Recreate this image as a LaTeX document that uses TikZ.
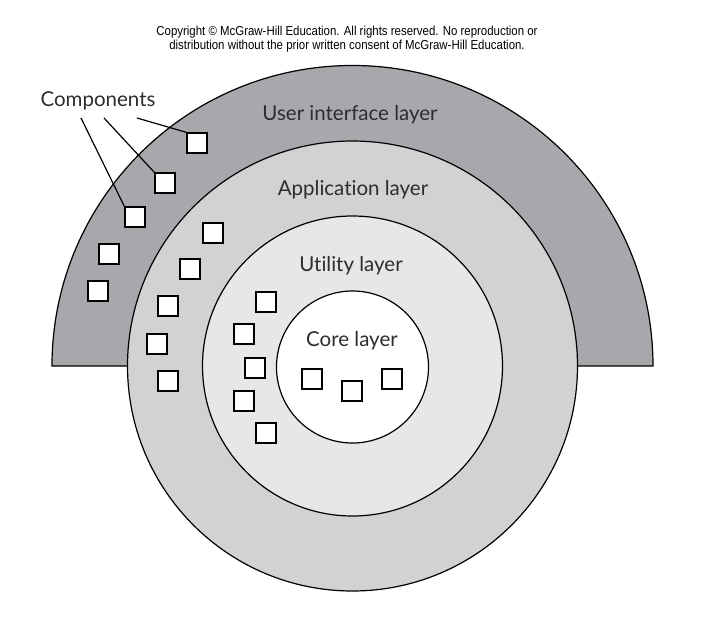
\documentclass[tikz,border=0pt]{standalone}
\usepackage{fontspec}
\setmainfont[Ligatures=NoCommon]{Lato}
\newfontfamily\notefont[FakeStretch=0.88]{Liberation Sans}
\usepackage{tikz}
\usetikzlibrary{positioning}
\usepackage{xcolor}

\definecolor{uigray}{RGB}{167,168,171}
\definecolor{appgray}{RGB}{209,210,212}
\definecolor{utilgray}{RGB}{230,231,232}
\definecolor{inkgray}{RGB}{45,45,48}

\tikzset{
  compbox/.style={draw, fill=white, line width=1.3pt, minimum size=20pt, inner sep=0pt},
  layername/.style={font=\fontsize{20.5}{24}\selectfont, text=inkgray},
}

\begin{document}
\begin{tikzpicture}[x=1pt,y=-1pt]
\useasboundingbox (0,0) rectangle (702,624);

% the four layers
\filldraw[fill=uigray, line width=1.2pt] (52,366) arc[start angle=180, end angle=360, radius=300.5] -- cycle;
\filldraw[fill=appgray, line width=1.2pt] (352.5,366) circle[radius=225];
\filldraw[fill=utilgray, line width=1.2pt] (352.5,366) circle[radius=150];
\filldraw[fill=white, line width=1.2pt] (352.5,367) circle[radius=76];

\node[font=\notefont\fontsize{13}{14}\selectfont, align=center] (copy) at (347,39)
  {Copyright © McGraw-Hill Education. All rights reserved. No reproduction or\\
   distribution without the prior written consent of McGraw-Hill Education.};

\node[layername] (uilabel) at (350,115) {User interface layer};
\node[layername] (applabel) at (353,190) {Application layer};
\node[layername] (utillabel) at (351,266) {Utility layer};
\node[layername] (corelabel) at (352,341) {Core layer};
\node[layername] (comp) at (98,101) {Components};

% user interface components
\node[compbox] (ui1) at (197,143) {};
\node[compbox] (ui2) at (165,183) {};
\node[compbox] (ui3) at (135,217) {};
\node[compbox] (ui4) at (109,254) {};
\node[compbox] (ui5) at (98,291) {};

% application components
\node[compbox] (app1) at (213,233) {};
\node[compbox] (app2) at (190,269) {};
\node[compbox] (app3) at (168,306) {};
\node[compbox] (app4) at (157,344) {};
\node[compbox] (app5) at (168,381) {};

% utility components
\node[compbox] (util1) at (266,302) {};
\node[compbox] (util2) at (244,334) {};
\node[compbox] (util3) at (255,368) {};
\node[compbox] (util4) at (244,401) {};
\node[compbox] (util5) at (266,433) {};

% core components
\node[compbox] (core1) at (312,379) {};
\node[compbox] (core2) at (352,391) {};
\node[compbox] (core3) at (392,379) {};

% pointers
\coordinate (p1) at (81,118);
\coordinate (p2) at (104,118);
\coordinate (p3) at (137,118);
\draw[line width=1.2pt] (p1) -- (ui3.north west);
\draw[line width=1.2pt] (p2) -- (ui2.north west);
\draw[line width=1.2pt] (p3) -- (ui1.north west);

\end{tikzpicture}
\end{document}
